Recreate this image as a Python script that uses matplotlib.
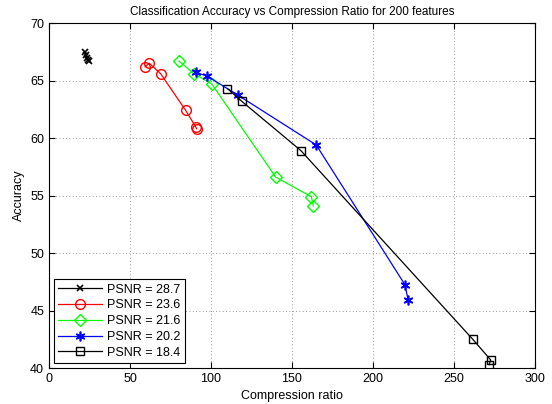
import matplotlib
matplotlib.use("Agg")
import matplotlib.pyplot as plt

plt.rcParams['font.family'] = ['Liberation Sans', 'DejaVu Sans']

labels = ["PSNR = 28.7", "PSNR = 23.6", "PSNR = 21.6", "PSNR = 20.2", "PSNR = 18.4"]

# compression ratio / accuracy per PSNR level
x_287 = [22.0, 23.0, 23.5, 24.0, 24.5]
y_287 = [67.5, 67.2, 67.0, 66.8, 66.7]

x_236 = [59.3, 61.9, 68.9, 84.4, 90.5, 91.2]
y_236 = [66.2, 66.5, 65.6, 62.4, 61.0, 60.8]

x_216 = [80.2, 89.5, 100.5, 140.0, 162.0, 163.2]
y_216 = [66.7, 65.6, 64.7, 56.6, 54.9, 54.1]

x_202 = [90.6, 97.5, 117.0, 165.0, 219.8, 221.8]
y_202 = [65.7, 65.4, 63.7, 59.4, 47.25, 45.9]

x_184 = [110.2, 119.0, 155.6, 261.7, 272.8, 271.8]
y_184 = [64.3, 63.2, 58.9, 42.5, 40.7, 40.3]

fig = plt.figure(figsize=(5.52, 4.04), dpi=100)
ax = fig.add_axes([0.0888, 0.089, 0.880, 0.854])

ax.plot(x_287, y_287, color='black', marker='x', ms=4, mew=1.2, lw=0.9, label=labels[0])
ax.plot(x_236, y_236, color='red', marker='o', ms=7, mfc='none', lw=0.9, label=labels[1])
ax.plot(x_216, y_216, color='#00ff00', marker='D', ms=6, mfc='none', lw=0.9, label=labels[2])
ax.plot(x_202, y_202, color='blue', marker=(6, 2, 0), ms=7, mew=1.2, lw=0.9, label=labels[3])
ax.plot(x_184, y_184, color='black', marker='s', ms=6, mfc='none', lw=0.9, label=labels[4])

ax.set_xlim(0, 300)
ax.set_ylim(40, 70)
ax.set_xticks(range(0, 301, 50))
ax.set_yticks(range(40, 71, 5))
ax.tick_params(direction='in', labelsize=9, length=4, top=True, right=True)
ax.grid(True, linestyle=(0, (1, 3)), color='#777777', lw=0.6)

ax.set_title("Classification Accuracy vs Compression Ratio for 200 features", fontsize=8.5)
ax.set_xlabel("Compression ratio", fontsize=9)
ax.set_ylabel("Accuracy", fontsize=9)

leg = ax.legend(loc='lower left', fontsize=9, fancybox=False, edgecolor='black',
                framealpha=1, borderaxespad=0.4, handlelength=3.5, labelspacing=0.3,
                handletextpad=0.4, borderpad=0.35)
leg.get_frame().set_linewidth(0.8)

fig.savefig("out.png", dpi=100)
